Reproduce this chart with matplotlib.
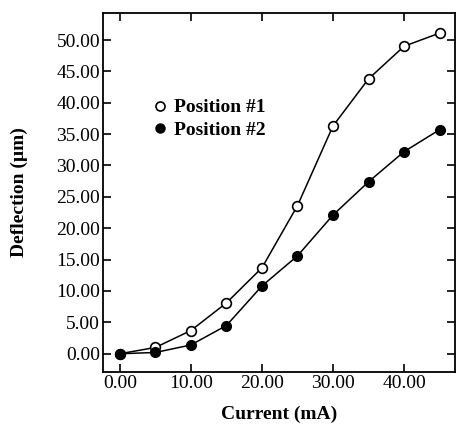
import matplotlib.pyplot as plt

# data
current = [0, 5, 10, 15, 20, 25, 30, 35, 40, 45]
pos1 = [0.0, 1.0, 3.7, 8.1, 13.7, 23.6, 36.3, 43.8, 49.0, 51.1]
pos2 = [0.0, 0.2, 1.4, 4.5, 10.8, 15.6, 22.1, 27.4, 32.2, 35.7]
xticks = [0, 10, 20, 30, 40]
yticks = [0, 5, 10, 15, 20, 25, 30, 35, 40, 45, 50]

plt.rcParams['font.family'] = ['Liberation Serif', 'DejaVu Serif']

fig = plt.figure(figsize=(4.57, 4.34), dpi=100)
ax = fig.add_axes([0.225, 0.143, 0.771, 0.827])

ax.plot(current, pos1, '-o', color='black', mfc='white', mec='black',
        ms=7, lw=1.1, mew=1.2, label='Position #1')
ax.plot(current, pos2, '-o', color='black', ms=7, lw=1.1, label='Position #2')

ax.set_xlim(-2.4, 47.2)
ax.set_ylim(-2.9, 54.3)
ax.set_xticks(xticks)
ax.set_xticklabels([f'{v:.2f}' for v in xticks])
ax.set_yticks(yticks)
ax.set_yticklabels([f'{v:.2f}' for v in yticks])
ax.tick_params(direction='in', top=True, right=True, length=6, width=1.2,
               labelsize=14, pad=2)
for s in ax.spines.values():
    s.set_linewidth(1.3)

ax.set_xlabel('Current (mA)', fontsize=14, fontweight='bold', labelpad=10)
ax.set_ylabel('Deflection (\u00b5m)', fontsize=14, fontweight='bold', labelpad=20)

leg = ax.legend(loc='upper left', bbox_to_anchor=(0.096, 0.81), frameon=False,
                handlelength=0.6, handletextpad=0.4, labelspacing=0.25,
                prop={'weight': 'bold', 'size': 14})
for h in leg.get_lines():
    h.set_linestyle('None')
    h.set_markersize(6.5)

plt.savefig('out.png', dpi=100)
